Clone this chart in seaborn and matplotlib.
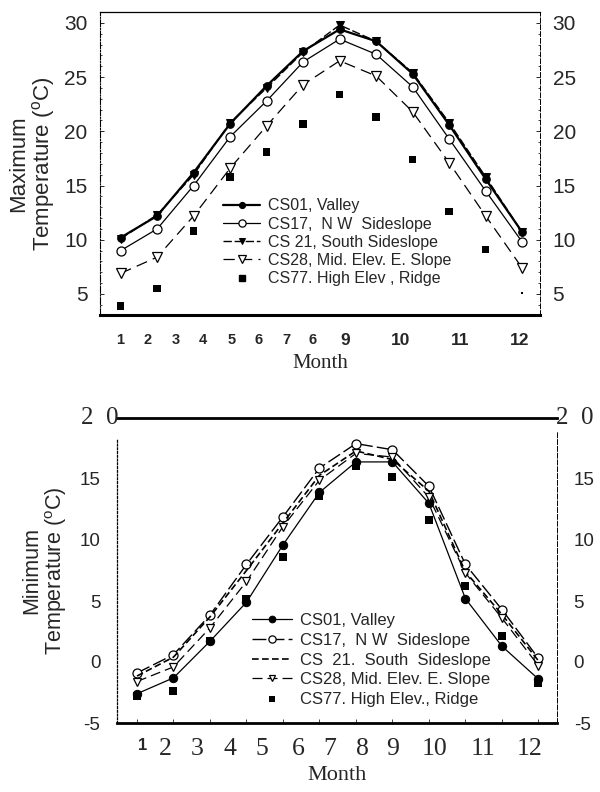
import matplotlib
matplotlib.use("Agg")
import matplotlib.pyplot as plt
import seaborn as sns
from matplotlib.ticker import MultipleLocator

# ---------------- data ----------------
months = list(range(1, 13))

# Maximum temperature (top panel)
max_cs01 = [10.2, 12.2, 16.2, 20.7, 24.2, 27.4, 29.4, 28.3, 25.3, 20.6, 15.6, 10.7]
max_cs17 = [9.0, 11.0, 15.0, 19.5, 22.8, 26.4, 28.5, 27.1, 24.1, 19.3, 14.5, 9.8]
max_cs21 = [10.1, 12.3, 16.0, 20.8, 24.0, 27.3, 29.8, 28.3, 25.4, 20.8, 15.8, 10.7]
max_cs28 = [6.9, 8.4, 12.2, 16.6, 20.5, 24.3, 26.5, 25.1, 21.8, 17.1, 12.2, 7.4]
max_cs77 = [3.9, 5.5, 10.8, 15.8, 18.1, 20.7, 23.4, 21.3, 17.4, 12.6, 9.1, 5.1]

# Minimum temperature (bottom panel)
min_cs01 = [-2.6, -1.3, 1.7, 4.9, 9.6, 13.9, 16.4, 16.4, 13.0, 5.2, 1.3, -1.4]
min_cs17 = [-0.9, 0.6, 3.85, 8.0, 11.9, 15.9, 17.9, 17.4, 14.4, 8.0, 4.3, 0.3]
min_cs21 = [-1.15, 0.4, 3.7, 7.5, 11.4, 15.3, 17.3, 16.6, 14.0, 7.4, 3.9, 0.1]
min_cs28 = [-1.6, -0.4, 2.8, 6.6, 11.1, 14.9, 17.1, 16.8, 13.5, 7.3, 3.6, -0.3]
min_cs77 = [-2.8, -2.4, 1.7, 5.2, 8.6, 13.6, 16.1, 15.2, 11.6, 6.2, 2.1, -1.7]

top_labels = ["CS01, Valley", "CS17,  N W  Sideslope", "CS 21, South Sideslope",
              "CS28, Mid. Elev. E. Slope", "CS77. High Elev , Ridge"]
bot_labels = ["CS01, Valley", "CS17,  N W  Sideslope", "CS  21.  South  Sideslope",
              "CS28, Mid. Elev. E. Slope", "CS77. High Elev., Ridge"]

# tick labels as printed (positions as they appear on the scan)
top_xtick_text = ["1", "2", "3", "4", "5", "6", "7", "6", "9", "10", "11", "12"]
top_xtick_pos = [0.98, 1.75, 2.52, 3.26, 4.03, 4.77, 5.53, 6.27, 7.15, 8.66, 10.30, 11.94]
bot_xtick_text = ["1", "2", "3", "4", "5", "6", "7", "8", "9", "10", "11", "12"]
bot_xtick_pos = [1.16, 1.77, 2.64, 3.55, 4.42, 5.41, 6.29, 7.19, 8.01, 9.16, 10.48, 11.77]
top_yticks = [5, 10, 15, 20, 25, 30]
bot_yticks = [-5, 0, 5, 10, 15]

# ---------------- style ----------------
sns.set_theme(style="white")
plt.rcParams["font.family"] = ["Liberation Sans", "DejaVu Sans"]
plt.rcParams["mathtext.fontset"] = "custom"
plt.rcParams["mathtext.rm"] = "Liberation Sans"
plt.rcParams["mathtext.it"] = "Liberation Sans:italic"
plt.rcParams["axes.unicode_minus"] = False

fig = plt.figure(figsize=(6.0, 7.92), dpi=100)
ax1 = fig.add_axes([100/600, 1-315/792, 440/600, 303/792])
ax2 = fig.add_axes([117/600, 1-723/792, 440/600, 305/792])

K = "black"

# ---------------- top panel ----------------
sns.lineplot(x=months, y=max_cs01, ax=ax1, color=K, lw=1.6, marker="o", ms=5.5,
             mfc=K, mec=K, label=top_labels[0], errorbar=None)
sns.lineplot(x=months, y=max_cs17, ax=ax1, color=K, lw=0.9, marker="o", ms=6.5,
             mfc="white", mec=K, mew=0.9, label=top_labels[1], errorbar=None)
sns.lineplot(x=months, y=max_cs21, ax=ax1, color=K, lw=1.0, marker="v", ms=5.5,
             mfc=K, mec=K, dashes=(6, 2), label=top_labels[2], errorbar=None)
sns.lineplot(x=months, y=max_cs28, ax=ax1, color=K, lw=0.9, marker="v", ms=6.5,
             mfc="white", mec=K, mew=0.9, dashes=(9, 5), label=top_labels[3], errorbar=None)
sns.scatterplot(x=months, y=max_cs77, ax=ax1, color=K, marker="s", s=[30]*11 + [3],
                edgecolor=K, linewidth=0, legend=False)
ax1.plot([], [], ls="none", marker="s", ms=5.5, color=K, label=top_labels[4])

ax1.set_xlim(0.433, 12.49)
ax1.set_ylim(3.06, 31.0)

ax1.set_xticks(top_xtick_pos, top_xtick_text, fontweight="bold")
for t in ax1.get_xticklabels():
    t.set_fontsize(10.5 if len(t.get_text()) == 1 and t.get_text() != "9" else 12.5)
ax1.tick_params(axis="x", length=0, pad=13)
ax1.set_yticks(top_yticks)
ax1.yaxis.set_minor_locator(MultipleLocator(1))
ax1.tick_params(axis="y", which="major", labelsize=15, direction="in", length=3,
                width=0.7, left=True, right=True, labelleft=True, labelright=True, pad=9)
ax1.tick_params(axis="y", which="minor", direction="in", length=1.6, width=0.6,
                left=True, right=True)

for side, ls, lw in [("left", (0, (6, 1.5, 1, 1.5)), 0.8), ("top", (0, (2, 1)), 0.9),
                     ("right", (0, (5, 2)), 0.7), ("bottom", "-", 2.2)]:
    ax1.spines[side].set_visible(True)
    ax1.spines[side].set_color(K)
    ax1.spines[side].set_linestyle(ls)
    ax1.spines[side].set_linewidth(lw)

ax1.set_xlabel("Month", fontfamily="Liberation Serif", fontsize=15, labelpad=4)
ax1.set_ylabel("Maximum\nTemperature ($^{\\mathrm{o}}$C)", fontsize=16, linespacing=1.05)
ax1.yaxis.set_label_coords(-0.098, 0.5)

leg1 = ax1.legend(loc="upper left", bbox_to_anchor=(0.28, 0.385), frameon=False,
                  fontsize=11.5, handlelength=2.3, handletextpad=0.5, markerscale=0.8,
                  labelspacing=0.2, borderpad=0, borderaxespad=0)

# ---------------- bottom panel ----------------
sns.lineplot(x=months, y=min_cs01, ax=ax2, color=K, lw=0.9, marker="o", ms=6,
             mfc=K, mec=K, label=bot_labels[0], errorbar=None)
sns.lineplot(x=months, y=min_cs17, ax=ax2, color=K, lw=1.0, marker="o", ms=6.5,
             mfc="white", mec=K, mew=0.9, dashes=(10, 3), label=bot_labels[1], errorbar=None)
sns.lineplot(x=months, y=min_cs21, ax=ax2, color=K, lw=1.2, dashes=(4, 2),
             label=bot_labels[2], errorbar=None)
sns.lineplot(x=months, y=min_cs28, ax=ax2, color=K, lw=0.9, marker="v", ms=6,
             mfc="white", mec=K, mew=0.9, dashes=(8, 4), label=bot_labels[3], errorbar=None)
sns.scatterplot(x=months, y=min_cs77, ax=ax2, color=K, marker="s", s=32,
                edgecolor=K, linewidth=0, label=bot_labels[4])

ax2.set_xlim(0.452, 12.51)
ax2.set_ylim(-5, 20)

ax2.set_xticks(months, [""] * 12)
ax2.tick_params(axis="x", which="major", direction="in", length=3, width=0.6, bottom=True)
ax2.set_xticks(bot_xtick_pos, bot_xtick_text, minor=True, fontfamily="Liberation Serif")
for t in ax2.get_xticklabels(minor=True):
    if t.get_text() == "1":
        t.set_fontfamily("Liberation Sans")
        t.set_fontweight("bold")
        t.set_fontsize(12)
    else:
        t.set_fontsize(18.5)
ax2.tick_params(axis="x", which="minor", length=0, pad=11)

ax2.set_yticks(bot_yticks)
ax2.tick_params(axis="y", which="major", labelsize=13.5, length=0, pad=12,
                left=True, right=True, labelleft=True, labelright=True)

for side, ls, lw in [("left", (0, (1.5, 1.5)), 0.9), ("top", "-", 2.0),
                     ("right", (0, (5, 2)), 0.7), ("bottom", "-", 2.0)]:
    ax2.spines[side].set_visible(True)
    ax2.spines[side].set_color(K)
    ax2.spines[side].set_linestyle(ls)
    ax2.spines[side].set_linewidth(lw)
ax2.spines["left"].set_bounds(-5, 18.4)
ax2.spines["right"].set_bounds(-5, 18.9)

# "2 0" labels at the top line
ax2.annotate("2  0", xy=(0, 20), xycoords=("axes fraction", "data"), xytext=(1, 0),
             textcoords="offset points", ha="right", va="center",
             fontfamily="Liberation Serif", fontsize=18)
ax2.annotate("2  0", xy=(1, 20), xycoords=("axes fraction", "data"), xytext=(-1, 0),
             textcoords="offset points", ha="left", va="center",
             fontfamily="Liberation Serif", fontsize=18)

ax2.set_xlabel("Month", fontfamily="Liberation Serif", fontsize=16, labelpad=4)
ax2.set_ylabel("Minimum\nTemperature ($^{\\mathrm{o}}$C)", fontsize=15.5, linespacing=1.05)
ax2.yaxis.set_label_coords(-0.109, 0.5)

leg2 = ax2.legend(loc="upper left", bbox_to_anchor=(0.307, 0.36), frameon=False,
                  fontsize=12, handlelength=2.4, handletextpad=0.5, markerscale=0.8,
                  labelspacing=0.28, borderpad=0, borderaxespad=0)

fig.savefig("out.png", dpi=100, facecolor="white")
